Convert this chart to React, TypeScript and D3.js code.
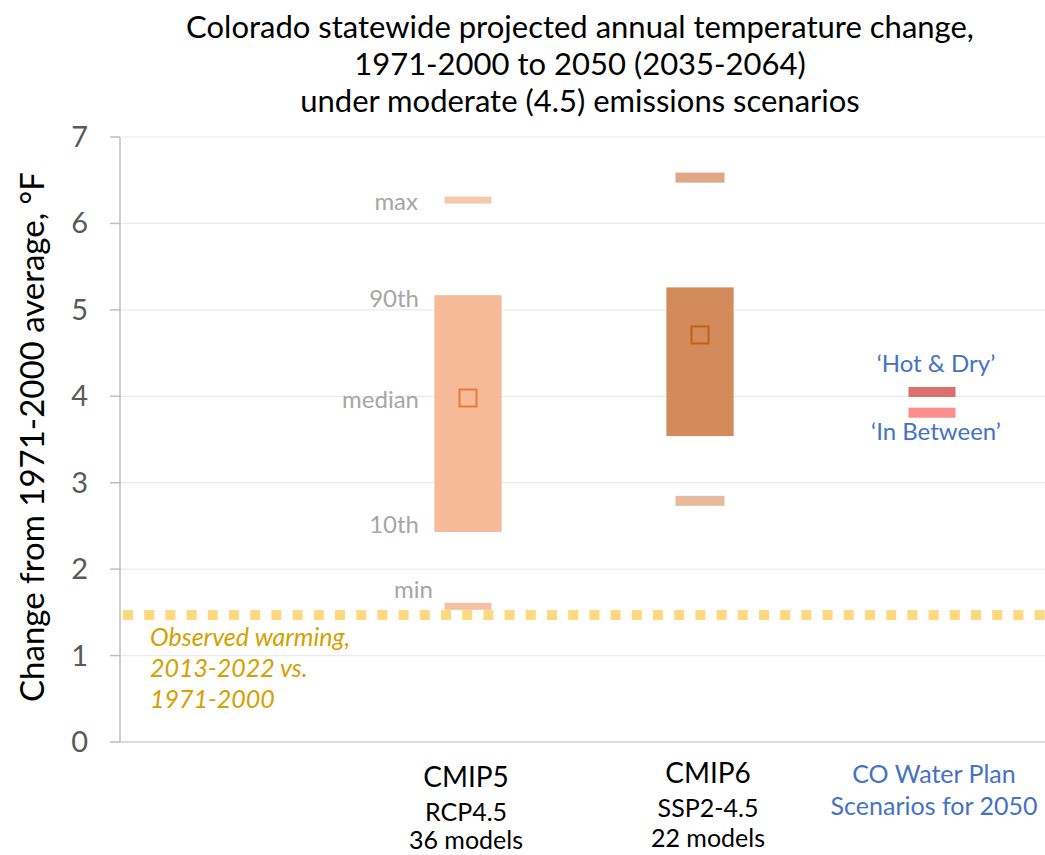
import React from 'react';
import * as d3 from 'd3';

const titleLines = [
  'Colorado statewide projected annual temperature change,',
  '1971-2000 to 2050 (2035-2064)',
  'under moderate (4.5) emissions scenarios',
];
const yAxisTitle = 'Change from 1971-2000 average, °F';
const categories = ['observed', 'CMIP5', 'CMIP6', 'CO Water Plan'];
const yTicks = [0, 1, 2, 3, 4, 5, 6, 7];
const statNames = ['min', '10th', 'median', '90th', 'max'];
const cmip5Stats = [1.57, 2.43, 3.98, 5.17, 6.27];
const cmip6Stats = [2.79, 3.54, 4.71, 5.26, 6.53];
const scenarioNames = ['\u2018Hot & Dry\u2019', '\u2018In Between\u2019'];
const scenarioValues = [4.05, 3.81];
const observedWarming = 1.47;
const observedLabel = ['Observed warming,', '2013-2022 vs.', '1971-2000'];
const cmip5Labels = ['CMIP5', 'RCP4.5', '36 models'];
const cmip6Labels = ['CMIP6', 'SSP2-4.5', '22 models'];
const waterPlanLabels = ['CO Water Plan', 'Scenarios for 2050'];

const FONT = "Lato, 'Open Sans', sans-serif";

export default function App() {
  const W = 1045, H = 855;
  const x = d3.scaleBand<string>().domain(categories).range([120, 1048]).padding(0);
  const y = d3.scaleLinear().domain([0, 7]).range([742, 137]);
  const cx = (c: string) => (x(c) as number) + x.bandwidth() / 2;
  const barW = x.bandwidth() * 0.29;

  const models = [
    { key: 'CMIP5', stats: cmip5Stats, bar: '#f5bb99', sq: '#ea7a33', maxC: '#f6c8ad', minC: '#f4c0a3', dashW: 47, dashH: 7 },
    { key: 'CMIP6', stats: cmip6Stats, bar: '#d38b5c', sq: '#c4600f', maxC: '#e0a786', minC: '#e6bb9c', dashW: 49, dashH: 10 },
  ];
  const statDy = [-8, 1, 10, 12, 10];
  const statDx = [-35, -49, -49, -49, -50];
  const c5 = cx('CMIP5');
  const scen = cx('CO Water Plan');
  const scenColors = ['#d9706d', '#ff8d8d'];

  return (
    <svg width={W} height={H} style={{ position: 'absolute', left: 0, top: 0, background: '#fff' }} fontFamily={FONT}>
      <rect width={W} height={H} fill="#fff" />
      {/* title */}
      {titleLines.map((t, i) => (
        <text key={i} x={580} y={38 + i * 37} textAnchor="middle" fontSize={31} fill="#000">{t}</text>
      ))}
      {/* gridlines */}
      {yTicks.filter(t => t > 0).map(t => (
        <line key={t} x1={120} x2={W} y1={y(t)} y2={y(t)} stroke="#ebebeb" strokeWidth={1.2} />
      ))}
      {/* axes */}
      <line x1={120} x2={W} y1={y(0)} y2={y(0)} stroke="#d0d0d0" strokeWidth={1.5} />
      <line x1={120} x2={120} y1={y(7)} y2={y(0)} stroke="#bfbfbf" strokeWidth={1.5} />
      {yTicks.map(t => (
        <g key={t}>
          <line x1={110} x2={120} y1={y(t)} y2={y(t)} stroke="#bfbfbf" strokeWidth={1.5} />
          <text x={88} y={y(t) + 10} textAnchor="end" fontSize={29} fill="#595959">{t}</text>
        </g>
      ))}
      <text transform={`translate(44,437) rotate(-90)`} textAnchor="middle" fontSize={33} fill="#000">{yAxisTitle}</text>

      {/* model ranges */}
      {models.map(m => {
        const c = cx(m.key);
        const [mn, p10, med, p90, mx] = m.stats;
        return (
          <g key={m.key}>
            <rect x={c - barW / 2} y={y(p90)} width={barW} height={y(p10) - y(p90)} fill={m.bar} />
            <rect x={c - 8.5} y={y(med) - 8.5} width={17} height={17} fill="none" stroke={m.sq} strokeWidth={2} />
            <rect x={c - m.dashW / 2} y={y(mx) - m.dashH / 2} width={m.dashW} height={m.dashH} fill={m.maxC} />
            <rect x={c - m.dashW / 2} y={y(mn) - m.dashH / 2} width={m.dashW} height={m.dashH} fill={m.minC} />
          </g>
        );
      })}
      {/* stat labels */}
      {statNames.map((s, i) => (
        <text key={s} x={c5 + statDx[i]} y={y(cmip5Stats[i]) + statDy[i]} textAnchor="end" fontSize={24} fill="#a6a6a6">{s}</text>
      ))}

      {/* observed warming */}
      <line x1={123} x2={W} y1={y(observedWarming)} y2={y(observedWarming)} stroke="#ffd97f" strokeWidth={10} strokeDasharray="10 11.2" />
      {observedLabel.map((t, i) => (
        <text key={i} x={150} y={646 + i * 31} fontSize={25} fontStyle="italic" fill="#d6a000">{t}</text>
      ))}

      {/* scenarios */}
      {scenarioValues.map((v, i) => (
        <rect key={i} x={scen - 23.5} y={y(v) - 5} width={47} height={10} fill={scenColors[i]} />
      ))}
      <text x={scen + 4} y={372} textAnchor="middle" fontSize={24} fill="#4472c4">{scenarioNames[0]}</text>
      <text x={scen + 4} y={440} textAnchor="middle" fontSize={24} fill="#4472c4">{scenarioNames[1]}</text>

      {/* category labels */}
      <g textAnchor="middle" fill="#000">
        <text x={cx('CMIP5') - 2} y={787} fontSize={28}>{cmip5Labels[0]}</text>
        <text x={cx('CMIP5') - 2} y={821} fontSize={25}>{cmip5Labels[1]}</text>
        <text x={cx('CMIP5') - 2} y={849} fontSize={25}>{cmip5Labels[2]}</text>
        <text x={cx('CMIP6') + 8} y={783} fontSize={28}>{cmip6Labels[0]}</text>
        <text x={cx('CMIP6') + 8} y={817} fontSize={25}>{cmip6Labels[1]}</text>
        <text x={cx('CMIP6') + 8} y={847} fontSize={25}>{cmip6Labels[2]}</text>
      </g>
      <g textAnchor="middle" fill="#4472c4">
        <text x={scen + 2} y={783} fontSize={25}>{waterPlanLabels[0]}</text>
        <text x={scen + 2} y={815} fontSize={25}>{waterPlanLabels[1]}</text>
      </g>
    </svg>
  );
}
